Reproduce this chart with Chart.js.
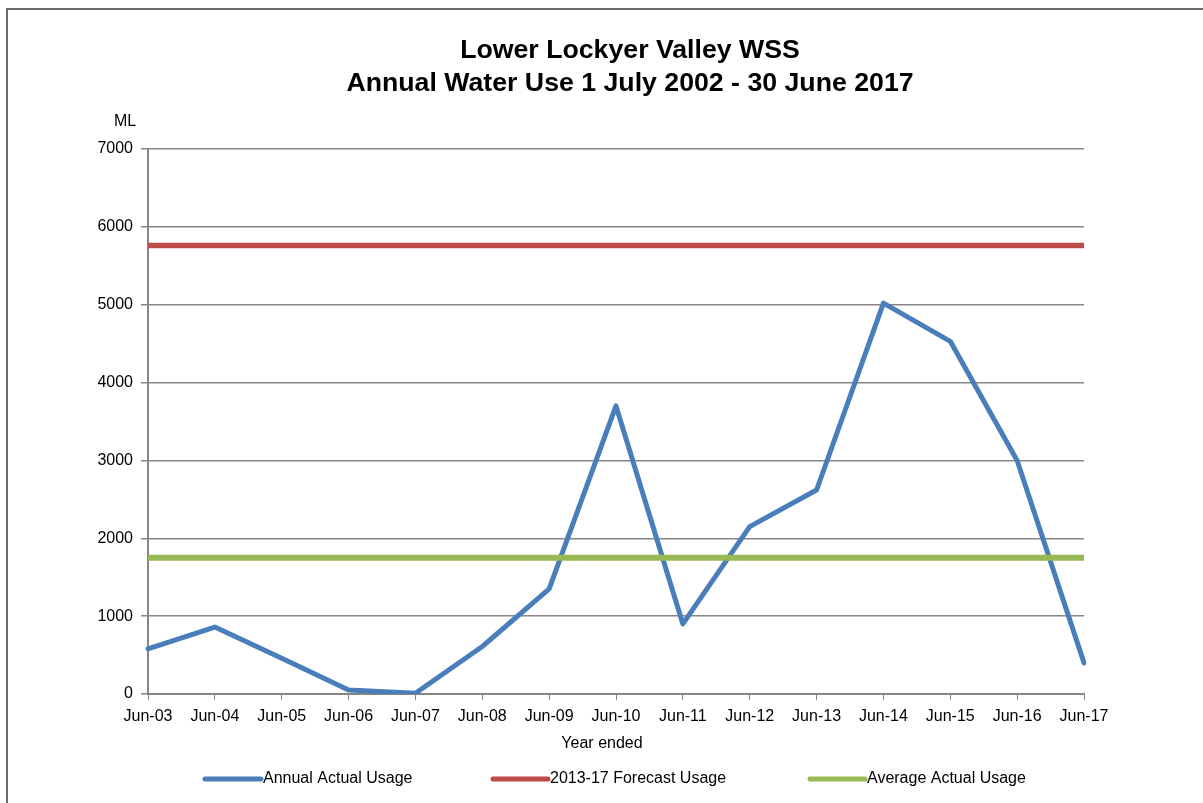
<!DOCTYPE html>
<html>
<head>
<meta charset="utf-8">
<script src="https://cdn.jsdelivr.net/npm/chart.js@4.4.1/dist/chart.umd.min.js"></script>
<style>
  html, body { margin: 0; padding: 0; background: #fff; }
  #wrap { position: absolute; left: 0; top: 0; width: 1203px; height: 803px; }
  #frame { position: absolute; left: 6px; top: 8px; width: 1210px; height: 810px; border-left: 2px solid #6b6b6b; border-top: 2px solid #6b6b6b; box-sizing: border-box; pointer-events: none; }
</style>
</head>
<body>
<div id="wrap">
  <canvas id="c" width="1203" height="803"></canvas>
  <div id="frame"></div>
</div>
<script>
const categories = ["Jun-03","Jun-04","Jun-05","Jun-06","Jun-07","Jun-08","Jun-09","Jun-10","Jun-11","Jun-12","Jun-13","Jun-14","Jun-15","Jun-16","Jun-17"];
const annualActualUsage = [580, 860, 460, 50, 10, 610, 1350, 3700, 900, 2150, 2620, 5020, 4530, 3000, 400];
const forecastUsage = [5760, 5760, 5760, 5760, 5760, 5760, 5760, 5760, 5760, 5760, 5760, 5760, 5760, 5760, 5760];
const averageUsage = [1750, 1750, 1750, 1750, 1750, 1750, 1750, 1750, 1750, 1750, 1750, 1750, 1750, 1750, 1750];
const seriesNames = ["Annual Actual Usage", "2013-17 Forecast Usage", "Average Actual Usage"];
const titleLines = ["Lower Lockyer Valley WSS", "Annual Water Use 1 July 2002 - 30 June 2017"];
const yAxisUnit = "ML";
const xAxisTitle = "Year ended";

const FONT = "'Liberation Sans', Arial, sans-serif";
const GRID = "#868686";

const decorPlugin = {
  id: 'decor',
  afterDraw(chart) {
    const ctx = chart.ctx;
    ctx.save();
    ctx.fillStyle = '#000';
    ctx.textAlign = 'center';
    ctx.textBaseline = 'middle';
    ctx.font = "bold 26.7px " + FONT;
    ctx.fillText(titleLines[0], 630, 51);
    ctx.fillText(titleLines[1], 630, 84);
    ctx.font = "16px " + FONT;
    ctx.fillText(yAxisUnit, 125, 122);
    ctx.fillText(xAxisTitle, 602, 744);
    // legend
    const items = [
      {x0: 205, x1: 261},
      {x0: 493, x1: 548},
      {x0: 810, x1: 865}
    ];
    const ly = 779;
    chart.data.datasets.forEach((ds, i) => {
      const it = items[i];
      ctx.strokeStyle = ds.borderColor;
      ctx.lineWidth = 5;
      ctx.lineCap = 'round';
      ctx.beginPath();
      ctx.moveTo(it.x0, ly);
      ctx.lineTo(it.x1, ly);
      ctx.stroke();
      ctx.fillStyle = '#000';
      ctx.textAlign = 'left';
      ctx.fillText(ds.label, it.x1 + 2, ly);
    });
    ctx.restore();
  }
};

new Chart(document.getElementById('c'), {
  type: 'line',
  data: {
    labels: categories,
    datasets: [
      { label: seriesNames[0], data: annualActualUsage, borderColor: '#4A7EBB', backgroundColor: '#4A7EBB', borderWidth: 5, pointRadius: 0, tension: 0, order: 3, borderJoinStyle: 'round', borderCapStyle: 'round' },
      { label: seriesNames[1], data: forecastUsage, borderColor: '#BE4B48', backgroundColor: '#BE4B48', borderWidth: 5.5, pointRadius: 0, tension: 0, order: 2 },
      { label: seriesNames[2], data: averageUsage, borderColor: '#98B954', backgroundColor: '#98B954', borderWidth: 6, pointRadius: 0, tension: 0, order: 1 }
    ]
  },
  options: {
    responsive: false,
    animation: false,
    events: [],
    layout: { padding: { left: 0, right: 119, top: 149, bottom: 0 } },
    plugins: { legend: { display: false }, title: { display: false }, tooltip: { enabled: false } },
    scales: {
      x: {
        type: 'category',
        offset: false,
        grid: { display: true, drawOnChartArea: false, drawTicks: true, tickLength: 6, color: GRID, lineWidth: 1 },
        border: { display: true, color: GRID, width: 2 },
        ticks: { color: '#000', font: { family: FONT, size: 16 }, padding: 7, maxRotation: 0, autoSkip: false },
        afterFit(scale) { scale.height = 109; }
      },
      y: {
        min: 0, max: 7000,
        grid: { display: true, drawOnChartArea: true, drawTicks: true, tickLength: 7, color: GRID, lineWidth: 1.5 },
        border: { display: true, color: GRID, width: 2 },
        ticks: { stepSize: 1000, color: '#000', font: { family: FONT, size: 16 }, padding: 8, callback: (v) => String(v) },
        afterFit(scale) { scale.width = 148; }
      }
    }
  },
  plugins: [decorPlugin]
});
</script>
</body>
</html>
